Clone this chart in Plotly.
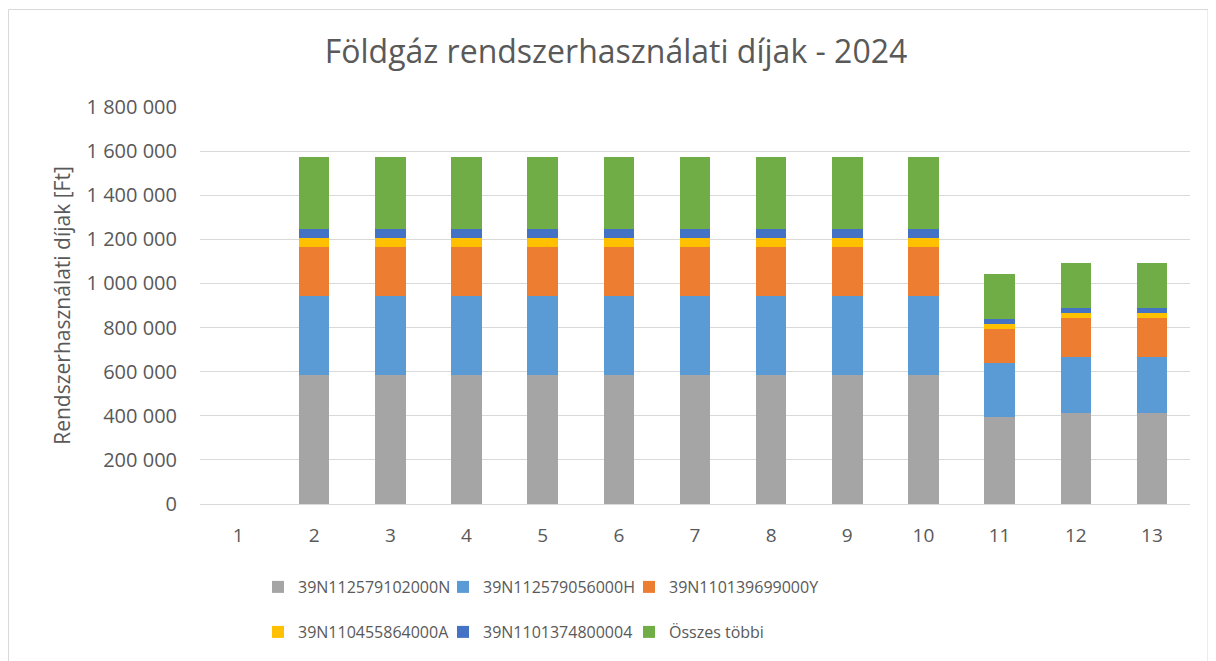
import plotly.graph_objects as go

categories = [str(i) for i in range(1, 14)]
series_names = ["39N112579102000N", "39N112579056000H", "39N110139699000Y",
                "39N110455864000A", "39N1101374800004", "Összes többi"]
colors = ["#A5A5A5", "#5B9BD5", "#ED7D31", "#FFC000", "#4472C4", "#70AD47"]

s_gray = [0] + [585000] * 9 + [396000, 413000, 413000]
s_lblue = [0] + [360000] * 9 + [245000, 254000, 254000]
s_orange = [0] + [222000] * 9 + [151000, 175000, 175000]
s_yellow = [0] + [39000] * 9 + [24000, 24000, 24000]
s_dblue = [0] + [40000] * 9 + [24000, 23000, 23000]
s_green = [0] + [327000] * 9 + [201000, 203000, 203000]
series_values = [s_gray, s_lblue, s_orange, s_yellow, s_dblue, s_green]

tick_vals = list(range(0, 1800001, 200000))
tick_text = ["0" if v == 0 else f"{v:,}".replace(",", " ") for v in tick_vals]

FONT = "Open Sans"
TXT = "#595959"

W, H = 1216, 661
L, R, T, B = 192, 34, 99, 165
pw, ph = W - L - R, H - T - B
bottom = H - B

def ly(fig_y):
    return -(fig_y - bottom) / ph

def lx(fig_x):
    return (fig_x - L) / pw

# legend slot positions (figure px): three columns, two rows
leg_cols = [250, 435, 621]
leg_rows = [579, 624]

fig = go.Figure()
legends = {}
for i, (name, vals, col) in enumerate(zip(series_names, series_values, colors)):
    key = "legend" if i == 0 else f"legend{i + 1}"
    fig.add_trace(go.Bar(
        x=categories, y=vals, name=name, marker_color=col,
        marker_line_width=0, legend=key,
    ))
    legends[key] = dict(orientation="h", x=lx(leg_cols[i % 3]), xanchor="left",
                        y=ly(leg_rows[i // 3]), yanchor="middle",
                        font=dict(size=16, color=TXT), bgcolor="rgba(0,0,0,0)")

fig.update_layout(
    width=W, height=H,
    barmode="stack", bargap=0.6,
    plot_bgcolor="white", paper_bgcolor="white",
    margin=dict(l=L, r=R, t=T, b=B),
    font=dict(family=FONT, color=TXT, size=19),
    title=dict(text="Földgáz rendszerhasználati díjak - 2024",
               x=0.5, xanchor="center", y=1 - 44 / H, yanchor="middle",
               font=dict(size=32, color=TXT, family=FONT)),
    xaxis=dict(type="category", showgrid=False, showline=True,
               linecolor="#d9d9d9", linewidth=1, ticks="",
               ticklabelstandoff=14,
               tickfont=dict(size=19, color=TXT)),
    yaxis=dict(range=[0, 1800000], tickvals=tick_vals, ticktext=tick_text,
               showgrid=True, gridcolor="#d9d9d9", gridwidth=1,
               zeroline=False, ticks="", ticklabelstandoff=22,
               tickfont=dict(size=20, color=TXT),
               title=dict(text="Rendszerhasználati díjak [Ft]",
                          font=dict(size=21, color=TXT), standoff=10)),
    showlegend=True,
    **legends,
)

# outer chart border
fig.add_shape(type="rect", xref="paper", yref="paper",
              x0=(0.5 - L) / pw, x1=(1200 - L) / pw,
              y0=(bottom - 700) / ph, y1=(bottom - 1.5) / ph,
              line=dict(color="#d9d9d9", width=1), fillcolor="rgba(0,0,0,0)",
              layer="below")

fig.write_html("out.html")
